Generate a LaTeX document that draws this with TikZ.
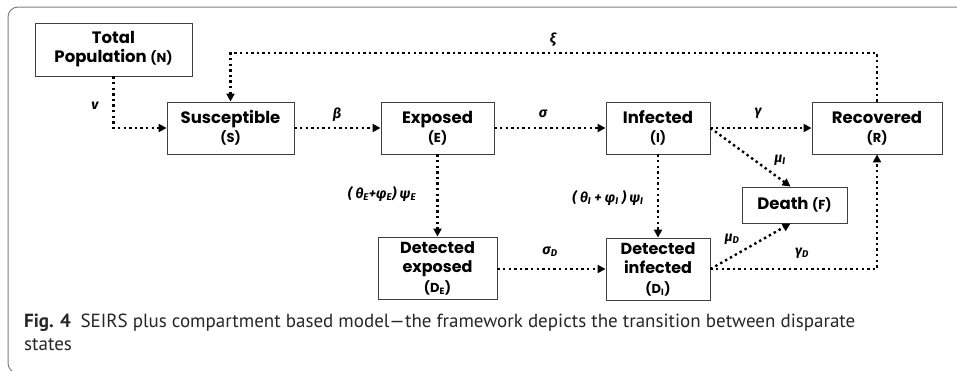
\documentclass[tikz,border=0pt]{standalone}
\usepackage{fontspec}
\setmainfont{Poppins}
\newfontfamily\capfont{PT Sans}
\newfontfamily\lblfont{Fira Sans}
\usetikzlibrary{arrows.meta}

\tikzset{
  box/.style={draw=black!75, line width=0.9pt, align=center, inner sep=0pt,
    font=\fontsize{16.5}{19}\selectfont\bfseries},
  flow/.style={line width=2.4pt, dash pattern=on 2.4pt off 3.2pt,
    -{Triangle[length=8pt,width=8pt]}},
  rate/.style={inner sep=1pt, font=\lblfont\fontsize{14}{16}\selectfont\bfseries\itshape},
  captext/.style={anchor=base west, inner sep=0pt, text=black!85, font=\capfont\fontsize{19}{22}\selectfont},
}
\newcommand{\sm}[1]{{\fontsize{13}{15}\selectfont #1}}

\begin{document}
\begin{tikzpicture}[x=1pt, y=-1pt]
\useasboundingbox (0,0) rectangle (957,370);
\draw[black!50, line width=1pt, rounded corners=10pt] (957,7) -- (8,7) -- (8,373) -- (40,373);

% compartments
\node[box, minimum width=157, minimum height=53] (N) at (113.5,49.5) {Total\\Population \sm{(N)}};
\node[box, minimum width=127, minimum height=52] (S) at (230.5,128) {Susceptible\\\sm{(S)}};
\node[box, minimum width=113, minimum height=52] (E) at (437.5,128) {Exposed\\\sm{(E)}};
\node[box, minimum width=104, minimum height=52] (I) at (658,128) {Infected\\\sm{(I)}};
\node[box, minimum width=130, minimum height=52] (R) at (877,128) {Recovered\\\sm{(R)}};
\node[box, minimum width=105, minimum height=36] (F) at (794.5,205) {Death \sm{(F)}};
\node[box, minimum width=119, minimum height=62, font=\fontsize{16}{19.5}\selectfont\bfseries] (DE) at (437.5,268) {Detected\\exposed\\\sm{(D\textsubscript{E})}};
\node[box, minimum width=104, minimum height=62, font=\fontsize{16}{19.5}\selectfont\bfseries] (DI) at (658,269) {Detected\\infected\\\sm{(D\textsubscript{I})}};

% transitions
\coordinate (top) at (0,53);
\draw[flow] (N.south) |- (S.west);
\draw[flow] (S.east) -- (E.west);
\draw[flow] (E.east) -- (I.west);
\draw[flow] (I.east) -- (R.west);
\draw[flow] (R.north) -- (R.north |- top) -| (S.north);
\draw[flow] (I.east) -- ([xshift=-4pt]F.north);
\draw[flow] (E.south) -- (DE.north);
\draw[flow] (I.south) -- (DI.north);
\draw[flow] (DE.east |- DI.east) -- (DI.west);
\draw[flow] (DI.east) -- ([xshift=-4pt]F.south);
\draw[flow] (DI.east) -| (R.south);

% rates
\node[rate] (nu) at (95,106) {v};
\node[rate] (beta) at (337,115) {β};
\node[rate] (sigma) at (543,114) {σ};
\node[rate] (gamma) at (758,113) {γ};
\node[rate] (xi) at (553,40) {ξ};
\node[rate] (muI) at (780,160) {μ\textsubscript{I}};
\node[rate] (psiE) at (382,194) {( θ\textsubscript{E}+φ\textsubscript{E}) ψ\textsubscript{E}};
\node[rate] (psiI) at (608,198) {( θ\textsubscript{I} + φ\textsubscript{I} ) ψ\textsubscript{I}};
\node[rate] (sigmaD) at (550,252) {σ\textsubscript{D}};
\node[rate] (muD) at (732,239) {μ\textsubscript{D}};
\node[rate] (gammaD) at (802,253) {γ\textsubscript{D}};

% caption
\node[captext] (cap1) at (24,327)
  {\textbf{Fig. 4}\enspace SEIRS plus compartment based model—the framework depicts the transition between disparate};
\node[captext] (cap2) at (24,350) {states};
\end{tikzpicture}
\end{document}
